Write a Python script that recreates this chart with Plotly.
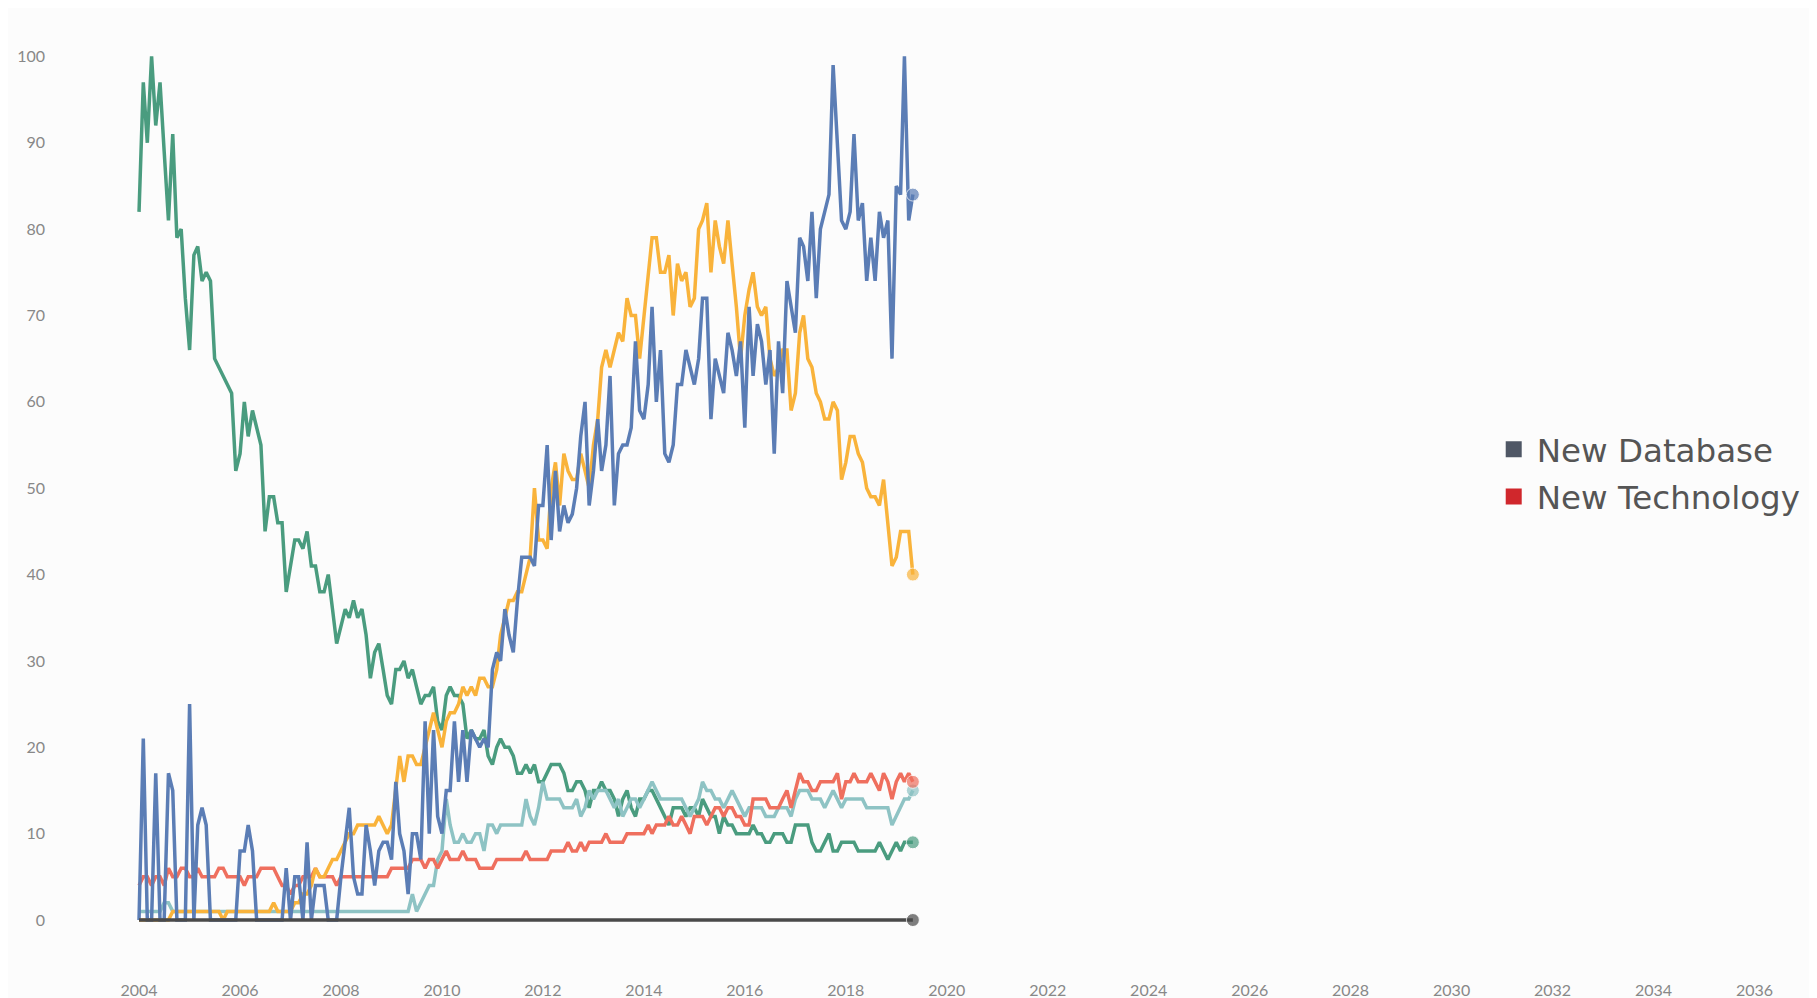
import pandas as pd
import plotly.graph_objects as go

# Monthly index values, Jan 2004 - May 2019 (one row per year)
green_series = (
    [82, 97, 90, 100, 92, 97, 89, 81, 91, 79, 80, 72]
    + [66, 77, 78, 74, 75, 74, 65, 64, 63, 62, 61, 52]
    + [54, 60, 56, 59, 57, 55, 45, 49, 49, 46, 46, 38]
    + [41, 44, 44, 43, 45, 41, 41, 38, 38, 40, 36, 32]
    + [34, 36, 35, 37, 35, 36, 33, 28, 31, 32, 29, 26]
    + [25, 29, 29, 30, 28, 29, 27, 25, 26, 26, 27, 23]
    + [22, 26, 27, 26, 26, 25, 21, 22, 21, 21, 22, 19]
    + [18, 20, 21, 20, 20, 19, 17, 17, 18, 17, 18, 16]
    + [16, 17, 18, 18, 18, 17, 15, 15, 16, 16, 15, 13]
    + [15, 15, 16, 15, 15, 14, 12, 14, 15, 13, 12, 14]
    + [14, 15, 15, 14, 13, 12, 11, 13, 13, 13, 12, 13]
    + [13, 12, 14, 13, 12, 12, 10, 12, 11, 11, 10, 10]
    + [10, 10, 11, 10, 10, 9, 9, 10, 10, 10, 9, 9]
    + [11, 11, 11, 11, 9, 8, 8, 9, 10, 8, 8, 9]
    + [9, 9, 9, 8, 8, 8, 8, 8, 9, 8, 7, 8]
    + [9, 8, 9, 9, 9]
)

blue_series = (
    [0, 21, 0, 0, 17, 0, 0, 17, 15, 0, 0, 0]
    + [25, 0, 11, 13, 11, 0, 0, 0, 0, 0, 0, 0]
    + [8, 8, 11, 8, 0, 0, 0, 0, 0, 0, 0, 6]
    + [0, 5, 5, 0, 9, 0, 4, 4, 4, 0, 0, 0]
    + [5, 9, 13, 5, 3, 3, 11, 8, 4, 8, 9, 9]
    + [7, 16, 10, 8, 3, 10, 10, 7, 23, 10, 22, 12]
    + [10, 15, 15, 23, 16, 22, 16, 22, 21, 20, 21, 20]
    + [29, 31, 30, 36, 33, 31, 37, 42, 42, 42, 41, 48]
    + [48, 55, 44, 52, 45, 48, 46, 47, 50, 56, 60, 48]
    + [52, 58, 52, 55, 63, 48, 54, 55, 55, 57, 67, 59]
    + [58, 62, 71, 60, 66, 54, 53, 55, 62, 62, 66, 64]
    + [62, 65, 72, 72, 58, 65, 63, 61, 68, 66, 63, 67]
    + [57, 71, 63, 69, 67, 62, 66, 54, 67, 61, 74, 71]
    + [68, 79, 78, 74, 82, 72, 80, 82, 84, 99, 89, 81]
    + [80, 82, 91, 81, 83, 74, 79, 74, 82, 79, 81, 65]
    + [85, 84, 100, 81, 84]
)

orange_series = (
    [0, 0, 0, 0, 0, 0, 0, 0, 1, 1, 1, 1]
    + [1, 1, 1, 1, 1, 1, 1, 1, 0, 1, 1, 1]
    + [1, 1, 1, 1, 1, 1, 1, 1, 2, 1, 1, 1]
    + [1, 2, 2, 3, 3, 4, 6, 5, 5, 6, 7, 7]
    + [8, 9, 10, 10, 11, 11, 11, 11, 11, 12, 11, 10]
    + [11, 15, 19, 16, 19, 19, 18, 18, 20, 22, 24, 22]
    + [20, 23, 24, 24, 25, 27, 26, 27, 26, 28, 28, 27]
    + [27, 29, 33, 35, 37, 37, 38, 38, 40, 42, 50, 44]
    + [44, 43, 50, 53, 48, 54, 52, 51, 51, 54, 52, 50]
    + [55, 58, 64, 66, 64, 66, 68, 67, 72, 70, 70, 65]
    + [70, 74, 79, 79, 75, 75, 77, 70, 76, 74, 75, 71]
    + [72, 80, 81, 83, 75, 81, 78, 76, 81, 76, 71, 65]
    + [70, 73, 75, 71, 70, 71, 65, 63, 64, 66, 66, 59]
    + [61, 68, 70, 65, 64, 61, 60, 58, 58, 60, 59, 51]
    + [53, 56, 56, 54, 53, 50, 49, 49, 48, 51, 46, 41]
    + [42, 45, 45, 45, 40]
)

teal_series = (
    [1, 1, 1, 1, 1, 1, 2, 2, 1, 1, 1, 1]
    + [1, 1, 1, 1, 1, 1, 1, 1, 1, 1, 1, 1]
    + [1, 1, 1, 1, 1, 1, 1, 1, 1, 1, 1, 1]
    + [1, 1, 1, 1, 1, 1, 1, 1, 1, 1, 1, 1]
    + [1, 1, 1, 1, 1, 1, 1, 1, 1, 1, 1, 1]
    + [1, 1, 1, 1, 1, 3, 1, 2, 3, 4, 4, 7]
    + [8, 14, 11, 9, 9, 10, 9, 9, 10, 10, 8, 11]
    + [11, 10, 11, 11, 11, 11, 11, 11, 14, 12, 11, 13]
    + [16, 14, 14, 14, 14, 13, 13, 13, 14, 12, 13, 15]
    + [14, 15, 15, 15, 14, 13, 14, 12, 13, 14, 14, 13]
    + [14, 15, 16, 15, 14, 14, 14, 14, 14, 14, 13, 12]
    + [13, 14, 16, 15, 15, 14, 14, 13, 14, 15, 14, 13]
    + [12, 13, 13, 13, 13, 12, 12, 12, 13, 13, 13, 12]
    + [14, 15, 15, 15, 14, 14, 14, 13, 14, 15, 14, 13]
    + [14, 14, 14, 14, 14, 13, 13, 13, 13, 13, 13, 11]
    + [12, 13, 14, 14, 15]
)

salmon_series = (
    [4, 5, 5, 4, 5, 5, 4, 6, 5, 5, 6, 6]
    + [5, 5, 6, 5, 5, 5, 5, 6, 6, 5, 5, 5]
    + [5, 4, 5, 5, 5, 6, 6, 6, 6, 5, 4, 4]
    + [3, 4, 4, 5, 5, 5, 6, 5, 5, 5, 5, 4]
    + [5, 5, 5, 5, 5, 5, 5, 5, 5, 5, 5, 5]
    + [6, 6, 6, 6, 6, 7, 7, 7, 6, 7, 7, 6]
    + [7, 8, 7, 7, 7, 8, 7, 7, 7, 6, 6, 6]
    + [6, 7, 7, 7, 7, 7, 7, 7, 8, 7, 7, 7]
    + [7, 7, 8, 8, 8, 8, 9, 8, 8, 9, 8, 9]
    + [9, 9, 9, 10, 9, 9, 9, 9, 10, 10, 10, 10]
    + [10, 11, 10, 11, 11, 11, 12, 11, 11, 12, 11, 10]
    + [12, 12, 12, 11, 12, 13, 13, 12, 13, 13, 12, 12]
    + [11, 11, 14, 14, 14, 14, 13, 13, 13, 14, 15, 13]
    + [15, 17, 16, 16, 15, 15, 16, 16, 16, 16, 17, 14]
    + [16, 16, 17, 16, 16, 16, 17, 16, 15, 17, 16, 14]
    + [16, 17, 16, 17, 16]
)

gray_series = (
    [0, 0, 0, 0, 0, 0, 0, 0, 0, 0, 0, 0] * 15
    + [0, 0, 0, 0, 0]
)

months = pd.date_range("2004-01-01", periods=len(green_series), freq="MS")

legend_names = ["New Database", "New Technology"]
legend_colors = ["#4f5765", "#d0272c"]

series = [
    (green_series, "#4a9c7f"),
    (teal_series, "#8ec3c4"),
    (salmon_series, "#ef6f5e"),
    (orange_series, "#f9b33b"),
    (blue_series, "#5b7db5"),
    (gray_series, "#4a4a4a"),
]

for s, _ in series:
    assert len(s) == len(months), len(s)

fig = go.Figure()
for s, color in series:
    n = len(s)
    fig.add_trace(go.Scatter(
        x=months, y=s, mode="lines+markers",
        line=dict(color=color, width=3.5),
        marker=dict(size=[0] * (n - 1) + [13], color=color),
        showlegend=False, hoverinfo="x+y",
    ))

for name, color in zip(legend_names, legend_colors):
    fig.add_trace(go.Scatter(
        x=[None], y=[None], mode="markers", name=name,
        legendgroup=name,
        marker=dict(symbol="square", size=16, color=color),
    ))

bg = "#fcfcfc"
fig.update_layout(
    width=1817, height=998,
    margin=dict(l=38, r=15, t=13, b=27),
    paper_bgcolor=bg, plot_bgcolor=bg,
    font=dict(family="Lato, Open Sans, sans-serif", color="#888888"),
    legend=dict(
        x=0.8190, y=0.528, xanchor="left", yanchor="middle",
        font=dict(size=32.5, color="#555555", family="DejaVu Sans, sans-serif"),
        bgcolor="rgba(0,0,0,0)", tracegroupgap=2, itemwidth=36,
    ),
    xaxis=dict(
        type="date", automargin=False,
        range=["2002-02-27", "2037-02-06"],
        tick0="2004-01-01", dtick="M24", tickformat="%Y",
        showgrid=False, zeroline=False, showline=False, ticks="",
        tickfont=dict(size=16, color="#888888"),
    ),
    yaxis=dict(
        automargin=False,
        range=[-6.83, 104.1],
        tick0=0, dtick=10,
        showgrid=False, zeroline=False, showline=False, ticks="",
        tickfont=dict(size=16, color="#888888"),
    ),
)

fig.write_html("out.html")
